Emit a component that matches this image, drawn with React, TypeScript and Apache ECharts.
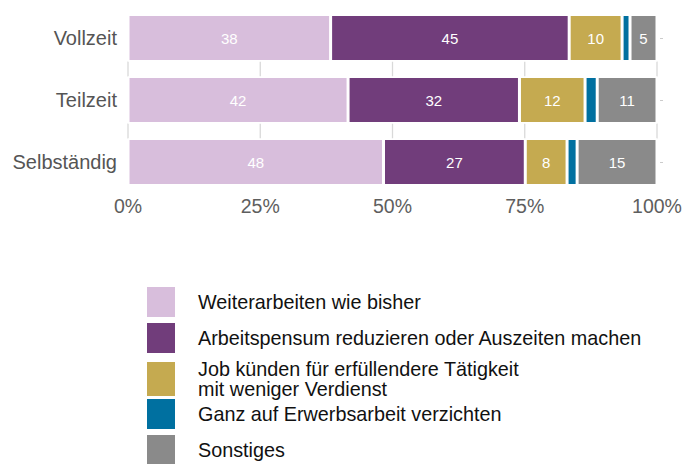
import React, { useEffect, useRef } from "react";
import * as echarts from "echarts";

const categories = ["Vollzeit", "Teilzeit", "Selbständig"];
const seriesNames = [
  "Weiterarbeiten wie bisher",
  "Arbeitspensum reduzieren oder Auszeiten machen",
  "Job künden für erfüllendere Tätigkeit\nmit weniger Verdienst",
  "Ganz auf Erwerbsarbeit verzichten",
  "Sonstiges",
];
const weiterarbeiten = [38.3, 41.6, 48.3];
const reduzieren = [45.1, 32.4, 26.8];
const kuenden = [10.0, 12.4, 7.9];
const verzichten = [1.5, 2.3, 1.9];
const sonstiges = [5.1, 11.3, 15.1];
const colors = ["#d8bedc", "#713d7b", "#c5aa50", "#0070a0", "#8a8a8a"];
const xTicks = [0, 25, 50, 75, 100];

const FONT = "'Liberation Sans', Arial, Helvetica, sans-serif";
const BAR_W = 47;

function legendPart(names: string[], top: number, itemHeight: number) {
  return {
    orient: "vertical",
    left: 147,
    top,
    height: 200,
    padding: 0,
    itemWidth: 28,
    itemHeight,
    itemGap: 6,
    icon: "rect",
    selectedMode: false,
    itemStyle: { borderWidth: 0 },
    data: names,
    textStyle: {
      color: "#111111",
      fontSize: 19.8,
      lineHeight: 20,
      fontFamily: FONT,
      padding: [0, 0, 0, 18],
    },
  };
}

export default function App() {
  const ref = useRef<HTMLDivElement>(null);
  useEffect(() => {
    if (!ref.current) return;
    const chart = echarts.init(ref.current, undefined, { renderer: "svg" });
    const values = [weiterarbeiten, reduzieren, kuenden, verzichten, sonstiges];
    const gridData: number[][] = [];
    xTicks.forEach((t) => {
      for (let i = 0; i < categories.length - 1; i++) gridData.push([t, i]);
    });
    chart.setOption({
      animation: false,
      textStyle: { fontFamily: FONT },
      grid: { left: 128, top: 7, width: 529, height: 186 },
      xAxis: {
        type: "value",
        min: 0,
        max: 100,
        interval: 25,
        axisLine: { show: false },
        axisTick: { show: false },
        splitLine: { show: false },
        axisLabel: {
          formatter: "{value}%",
          color: "#5e5e5e",
          fontSize: 19.5,
          margin: 3,
          fontFamily: FONT,
        },
      },
      yAxis: [
        {
          type: "category",
          data: categories,
          inverse: true,
          axisLine: { show: false },
          axisTick: { show: false },
          axisLabel: { color: "#555555", fontSize: 20, margin: 11, fontFamily: FONT },
        },
        {
          type: "category",
          data: categories,
          inverse: true,
          position: "right",
          offset: 3,
          axisLine: { show: false },
          axisTick: { show: true, alignWithLabel: true, length: 3, lineStyle: { color: "#cccccc" } },
          axisLabel: { show: false },
        },
      ],
      legend: [
        legendPart(seriesNames.slice(0, 2), 287, 30),
        legendPart(seriesNames.slice(2, 3), 359, 34),
        legendPart(seriesNames.slice(3, 5), 399, 30),
      ],
      series: [
        {
          type: "custom",
          silent: true,
          z: 0,
          yAxisIndex: 0,
          data: gridData,
          renderItem: (params: any, api: any) => {
            const x = api.value(0);
            const i = api.value(1);
            const p1 = api.coord([x, i]);
            const p2 = api.coord([x, i + 1]);
            return {
              type: "line",
              shape: { x1: p1[0], y1: p1[1] + BAR_W / 2, x2: p1[0], y2: p2[1] - BAR_W / 2 },
              style: { stroke: "#d9d9d9", lineWidth: 1.3 },
            };
          },
        },
        ...seriesNames.map((name, k) => ({
          name,
          type: "bar",
          stack: "total",
          yAxisIndex: 0,
          barWidth: BAR_W,
          z: 2,
          data: values[k],
          itemStyle: { color: colors[k], borderColor: "#ffffff", borderWidth: 1.5 },
          label: {
            show: k !== 3,
            position: "inside",
            color: "#ffffff",
            fontSize: 15,
            fontFamily: FONT,
            formatter: (p: any) => String(Math.round(p.value)),
          },
        })),
      ],
    });
    return () => chart.dispose();
  }, []);
  return (
    <div
      ref={ref}
      style={{ position: "fixed", left: 0, top: 0, width: 686, height: 464, background: "#ffffff" }}
    />
  );
}
